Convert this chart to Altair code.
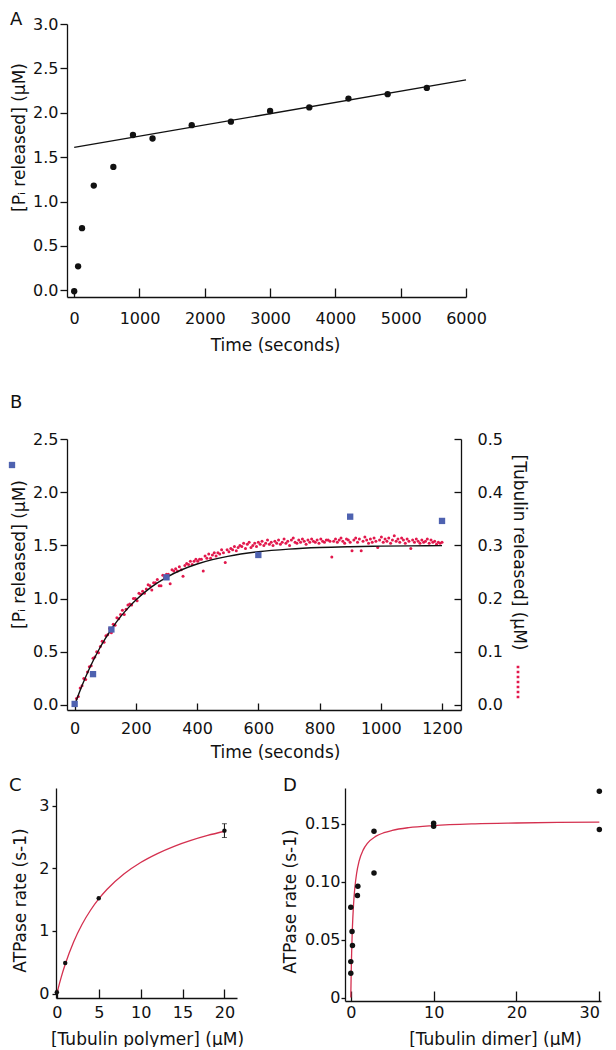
import altair as alt
import pandas as pd

FONT = "DejaVu Sans"
BLACK = "#111111"
BLUE = "#4e62b0"
RED = "#e2184c"
FIT_RED = "#d4304f"

# ---------------- Panel A ----------------
a_time = [0, 60, 120, 300, 600, 900, 1200, 1800, 2400, 3000, 3600, 4200, 4800, 5400]
a_pi = [-0.01, 0.27, 0.70, 1.18, 1.39, 1.75, 1.71, 1.86, 1.90, 2.02, 2.06, 2.16, 2.21, 2.28]
a_fit_time = [0, 6000]
a_fit_pi = [1.61, 2.37]
a_xticks = [0, 1000, 2000, 3000, 4000, 5000, 6000]
a_yticks = [0.0, 0.5, 1.0, 1.5, 2.0, 2.5, 3.0]

# ---------------- Panel B ----------------
b_sq_time = [0, 60, 120, 300, 600, 900, 1200]
b_sq_pi = [0.01, 0.29, 0.71, 1.20, 1.41, 1.77, 1.73]
b_fit_time = [0, 10, 20, 30, 45, 60, 80, 100, 125, 150, 175, 200, 250, 300, 350,
              400, 450, 500, 600, 700, 800, 900, 1000, 1100, 1200]
b_fit_pi = [0.0, 0.078, 0.153, 0.223, 0.322, 0.413, 0.524, 0.623, 0.733, 0.830, 0.913,
            0.987, 1.108, 1.200, 1.271, 1.325, 1.366, 1.397, 1.440, 1.465, 1.480, 1.488,
            1.493, 1.496, 1.498]
b_red_time = [
    6, 12, 18, 24, 30, 36, 42, 48, 54, 60,
    66, 72, 78, 84, 90, 96, 102, 108, 114, 120,
    126, 132, 138, 144, 150, 156, 162, 168, 174, 180,
    186, 192, 198, 204, 210, 216, 222, 228, 234, 240,
    246, 252, 258, 264, 270, 276, 282, 288, 294, 300,
    306, 312, 318, 324, 330, 336, 342, 348, 354, 360,
    366, 372, 378, 384, 390, 396, 402, 408, 414, 420,
    426, 432, 438, 444, 450, 456, 462, 468, 474, 480,
    486, 492, 498, 504, 510, 516, 522, 528, 534, 540,
    546, 552, 558, 564, 570, 576, 582, 588, 594, 600,
    606, 612, 618, 624, 630, 636, 642, 648, 654, 660,
    666, 672, 678, 684, 690, 696, 702, 708, 714, 720,
    726, 732, 738, 744, 750, 756, 762, 768, 774, 780,
    786, 792, 798, 804, 810, 816, 822, 828, 834, 840,
    846, 852, 858, 864, 870, 876, 882, 888, 894, 900,
    906, 912, 918, 924, 930, 936, 942, 948, 954, 960,
    966, 972, 978, 984, 990, 996, 1002, 1008, 1014, 1020,
    1026, 1032, 1038, 1044, 1050, 1056, 1062, 1068, 1074, 1080,
    1086, 1092, 1098, 1104, 1110, 1116, 1122, 1128, 1134, 1140,
    1146, 1152, 1158, 1164, 1170, 1176, 1182, 1188, 1194, 1200]
b_red_tub = [
    0.012, 0.016, 0.032, 0.036, 0.050, 0.048, 0.062, 0.072, 0.074, 0.088,
    0.090, 0.100, 0.098, 0.110, 0.120, 0.118, 0.130, 0.132, 0.144, 0.136,
    0.152, 0.150, 0.164, 0.162, 0.170, 0.178, 0.170, 0.180, 0.188, 0.190,
    0.188, 0.200, 0.200, 0.196, 0.210, 0.208, 0.214, 0.210, 0.218, 0.226,
    0.224, 0.216, 0.230, 0.230, 0.236, 0.224, 0.224, 0.244, 0.240, 0.246,
    0.246, 0.228, 0.254, 0.252, 0.256, 0.252, 0.260, 0.254, 0.242, 0.262,
    0.266, 0.264, 0.270, 0.264, 0.270, 0.274, 0.270, 0.274, 0.274, 0.252,
    0.280, 0.276, 0.284, 0.276, 0.282, 0.286, 0.280, 0.286, 0.284, 0.292,
    0.286, 0.268, 0.292, 0.288, 0.294, 0.292, 0.298, 0.290, 0.296, 0.300,
    0.298, 0.304, 0.294, 0.302, 0.306, 0.296, 0.300, 0.304, 0.298, 0.306,
    0.302, 0.308, 0.300, 0.304, 0.310, 0.302, 0.306, 0.300, 0.308, 0.304,
    0.310, 0.302, 0.306, 0.312, 0.304, 0.308, 0.300, 0.310, 0.314, 0.306,
    0.304, 0.310, 0.306, 0.312, 0.308, 0.302, 0.310, 0.306, 0.312, 0.308,
    0.306, 0.310, 0.304, 0.312, 0.308, 0.306, 0.310, 0.310, 0.308, 0.278,
    0.308, 0.312, 0.306, 0.310, 0.314, 0.308, 0.304, 0.312, 0.310, 0.306,
    0.290, 0.310, 0.314, 0.306, 0.312, 0.290, 0.308, 0.316, 0.310, 0.304,
    0.312, 0.306, 0.314, 0.308, 0.296, 0.310, 0.316, 0.306, 0.312, 0.308,
    0.314, 0.304, 0.310, 0.318, 0.308, 0.312, 0.306, 0.314, 0.310, 0.304,
    0.312, 0.308, 0.294, 0.310, 0.306, 0.312, 0.308, 0.304, 0.310, 0.306,
    0.308, 0.312, 0.304, 0.310, 0.306, 0.308, 0.302, 0.306, 0.304, 0.306]
b_xticks = [0, 200, 400, 600, 800, 1000, 1200]
b_yticks = [0.0, 0.5, 1.0, 1.5, 2.0, 2.5]
b_rticks = [0.0, 0.1, 0.2, 0.3, 0.4, 0.5]

# ---------------- Panel C ----------------
c_conc = [0, 1, 5, 20]
c_rate = [0.02, 0.49, 1.52, 2.60]
c_err_conc = [20]
c_err_lo = [2.49]
c_err_hi = [2.71]
c_fit_conc = [0, 0.5, 1, 2, 3, 4, 5, 6, 8, 10, 12, 14, 16, 18, 20]
c_fit_rate = [0.0, 0.252, 0.468, 0.823, 1.102, 1.326, 1.510, 1.664, 1.907, 2.091,
              2.234, 2.350, 2.444, 2.523, 2.590]
c_xticks = [0, 5, 10, 15, 20]
c_yticks = [0, 1, 2, 3]

# ---------------- Panel D ----------------
d_conc = [0, 0.15, 0.2, 0, 0, 0.85, 0.8, 2.8, 2.8, 10, 10, 30, 30]
d_rate = [0.078, 0.057, 0.045, 0.031, 0.021, 0.096, 0.088, 0.1435, 0.1076,
          0.1504, 0.1478, 0.178, 0.145]
d_fit_conc = [0, 0.02, 0.05, 0.1, 0.15, 0.2, 0.3, 0.4, 0.5, 0.7, 1, 1.5, 2, 3, 4, 5,
              7, 10, 15, 20, 25, 30]
d_fit_rate = [0.0, 0.0096, 0.0219, 0.0383, 0.051, 0.0612, 0.0765, 0.0874, 0.0956,
              0.1071, 0.1177, 0.1275, 0.1330, 0.1391, 0.1423, 0.1443, 0.1467, 0.1485,
              0.1500, 0.1507, 0.1512, 0.1515]
d_xticks = [0, 10, 20, 30]
d_yticks = [0, 0.05, 0.10, 0.15]


# ---------------- helpers ----------------
def x_main(values, title, fmt, label_pad, title_x, title_y, flush=False):
    return alt.Axis(values=values, format=fmt, title=title, orient="bottom",
                    ticks=False, tickSize=0, labelPadding=label_pad,
                    labelFlush=flush, labelOverlap=False,
                    titleX=title_x, titleY=title_y, titleBaseline="middle",
                    titleAlign="center")


def x_ticks(values, length):
    return alt.Axis(values=values, orient="bottom", offset=-length, tickSize=length,
                    domain=False, labels=False, title=None)


def y_left(values, fmt, title, tick, pad, title_x, title_y, label_expr=None):
    kw = dict(values=values, format=fmt, title=title, orient="left", tickSize=tick,
              labelPadding=pad, labelOverlap=False, labelFlush=False,
              titleX=title_x, titleY=title_y, titleBaseline="middle",
              titleAlign="center")
    if label_expr is not None:
        kw["labelExpr"] = label_expr
    return alt.Axis(**kw)


def panel_title(letter, dx, dy):
    return alt.TitleParams(text=letter, anchor="start", frame="group", orient="top",
                           offset=0, dx=dx, dy=dy, baseline="alphabetic",
                           fontSize=18, font=FONT, fontWeight="normal", color=BLACK)


def sc(lo, hi):
    return alt.Scale(domain=[lo, hi], nice=False, zero=False)


def spacer():
    return alt.Chart(pd.DataFrame({"v": [0]})).mark_point(opacity=0, size=0).encode(
        x=alt.value(0), y=alt.value(0)).properties(width=1, height=1)


# ---------------- Panel A chart ----------------
df_a = pd.DataFrame({"t": a_time, "pi": a_pi})
df_af = pd.DataFrame({"t": a_fit_time, "pi": a_fit_pi})
ax = sc(-110, 6000)
ay = sc(-0.075, 3.0)
a_pts = alt.Chart(df_a).mark_circle(size=40, color=BLACK, opacity=1).encode(
    x=alt.X("t:Q", scale=ax, axis=x_main(a_xticks, "Time (seconds)", "d", 13, 208, 48)),
    y=alt.Y("pi:Q", scale=ay, axis=y_left(a_yticks, ".1f", "[Pᵢ released] (µM)", 7, 2, -48, 113)))
a_line = alt.Chart(df_af).mark_line(color=BLACK, strokeWidth=1.4).encode(
    x=alt.X("t:Q", scale=ax, axis=x_ticks(a_xticks, 9)),
    y=alt.Y("pi:Q", scale=ay, axis=None))
A = alt.layer(a_line, a_pts).resolve_axis(x="independent", y="independent").properties(
    width=399, height=273, title=panel_title("A", -57, 27))

# ---------------- Panel B chart ----------------
df_bsq = pd.DataFrame({"t": b_sq_time, "pi": b_sq_pi, "series": ["Pi"] * len(b_sq_time)})
df_bf = pd.DataFrame({"t": b_fit_time, "pi": b_fit_pi})
df_br = pd.DataFrame({"t": b_red_time, "tub": b_red_tub, "series": ["Tubulin"] * len(b_red_time)})
bx = sc(-25, 1262)
by = sc(-0.047, 2.5)
bry = sc(-0.0094, 0.5)
dots_path = " ".join(
    "M-0.09,%.3fh0.18v0.18h-0.18z" % (c - 0.09)
    for c in [-1.0, -0.667, -0.333, 0.0, 0.333, 0.667, 1.0])
b_red = alt.Chart(df_br).mark_circle(size=9, opacity=1).encode(
    x=alt.X("t:Q", scale=bx, axis=None),
    y=alt.Y("tub:Q", scale=bry, axis=alt.Axis(
        values=b_rticks, format=".1f", orient="right", ticks=False, tickSize=0,
        labelPadding=16, labelOverlap=False, labelFlush=False,
        title="[Tubulin released] (µM)", titleX=57, titleY=113,
        titleBaseline="middle", titleAlign="center")),
    color=alt.Color("series:N", scale=alt.Scale(range=[RED]), legend=alt.Legend(
        orient="none", legendX=495, legendY=643, title=None, labelExpr="''",
        labelFontSize=1, symbolType=dots_path, symbolSize=900, symbolStrokeWidth=0,
        padding=0, offset=0)))
b_fit = alt.Chart(df_bf).mark_line(color=BLACK, strokeWidth=1.4, interpolate="monotone").encode(
    x=alt.X("t:Q", scale=bx, axis=x_ticks(b_xticks, 7)),
    y=alt.Y("pi:Q", scale=by, axis=None))
b_sq = alt.Chart(df_bsq).mark_square(size=40, opacity=1, strokeWidth=0).encode(
    x=alt.X("t:Q", scale=bx, axis=x_main(b_xticks, "Time (seconds)", "d", 10, 208, 42)),
    y=alt.Y("pi:Q", scale=by, axis=y_left(b_yticks, ".1f", "[Pᵢ released] (µM)", 7, 2, -48, 115)),
    fill=alt.Fill("series:N", scale=alt.Scale(range=[BLUE]), legend=alt.Legend(
        orient="none", legendX=0.5, legendY=437.5, title=None, labelExpr="''",
        labelFontSize=1, symbolType="square", symbolSize=40, symbolStrokeWidth=0,
        padding=0, offset=0)))
b_rt = alt.Chart(df_br).mark_circle(opacity=0).encode(
    x=alt.X("t:Q", scale=bx, axis=None),
    y=alt.Y("tub:Q", scale=bry, axis=alt.Axis(
        values=b_rticks, orient="right", offset=-7, tickSize=7, domain=False,
        labels=False, title=None)))
B = alt.layer(b_red, b_fit, b_sq, b_rt).resolve_scale(y="independent").resolve_axis(
    x="independent", y="independent").properties(
    width=394, height=271, title=panel_title("B", -57, -5))

# ---------------- Panel C chart ----------------
df_c = pd.DataFrame({"x": c_conc, "y": c_rate})
df_ce = pd.DataFrame({"x": c_err_conc, "lo": c_err_lo, "hi": c_err_hi})
df_cf = pd.DataFrame({"x": c_fit_conc, "y": c_fit_rate})
cx = sc(-0.1, 21.5)
cy = sc(-0.07, 3.28)
c_fit = alt.Chart(df_cf).mark_line(color=FIT_RED, strokeWidth=1.3, interpolate="monotone").encode(
    x=alt.X("x:Q", scale=cx, axis=x_ticks(c_xticks, 9)),
    y=alt.Y("y:Q", scale=cy, axis=None))
c_err = alt.Chart(df_ce).mark_rule(color=BLACK, strokeWidth=1).encode(
    x=alt.X("x:Q", scale=cx, axis=None),
    y=alt.Y("lo:Q", scale=cy, axis=None), y2="hi:Q")
c_cap_lo = alt.Chart(df_ce).mark_tick(color=BLACK, orient="horizontal", size=5, thickness=1).encode(
    x=alt.X("x:Q", scale=cx, axis=None), y=alt.Y("lo:Q", scale=cy, axis=None))
c_cap_hi = alt.Chart(df_ce).mark_tick(color=BLACK, orient="horizontal", size=5, thickness=1).encode(
    x=alt.X("x:Q", scale=cx, axis=None), y=alt.Y("hi:Q", scale=cy, axis=None))
c_pts = alt.Chart(df_c).mark_circle(size=20, color=BLACK, opacity=1).encode(
    x=alt.X("x:Q", scale=cx, axis=x_main(c_xticks, "[Tubulin polymer] (µM)", "d", 6, 91, 41)),
    y=alt.Y("y:Q", scale=cy, axis=y_left(c_yticks, "d", "ATPase rate (s-1)", 4, 3, -36, 112)))
C = alt.layer(c_fit, c_err, c_cap_lo, c_cap_hi, c_pts).resolve_axis(
    x="independent", y="independent").properties(
    width=181, height=210, title=panel_title("C", -47, 21))

# ---------------- Panel D chart ----------------
df_d = pd.DataFrame({"x": d_conc, "y": d_rate})
df_df = pd.DataFrame({"x": d_fit_conc, "y": d_fit_rate})
dx_ = sc(-0.7, 30.2)
dy_ = sc(-0.003, 0.1809)
d_fit = alt.Chart(df_df).mark_line(color=FIT_RED, strokeWidth=1.3, interpolate="monotone").encode(
    x=alt.X("x:Q", scale=dx_, axis=x_ticks(d_xticks, 10)),
    y=alt.Y("y:Q", scale=dy_, axis=None))
d_pts = alt.Chart(df_d).mark_circle(size=30, color=BLACK, opacity=1).encode(
    x=alt.X("x:Q", scale=dx_, axis=x_main(d_xticks, "[Tubulin dimer] (µM)", "d", 3, 150, 38,
                                          flush=3)),
    y=alt.Y("y:Q", scale=dy_, axis=y_left(
        d_yticks, ".2f", "ATPase rate (s-1)", 4, 1, -55, 113,
        label_expr="datum.value == 0 ? '0' : format(datum.value, '.2f')")))
D = alt.layer(d_fit, d_pts).resolve_axis(x="independent", y="independent").properties(
    width=256, height=213, title=panel_title("D", -62, 21))

# ---------------- assemble ----------------
top = alt.hconcat(spacer(), alt.vconcat(A, B, spacing=41), spacing=0)
bottom = alt.hconcat(spacer(), alt.hconcat(C, D, spacing=36), spacing=0)
chart = alt.vconcat(top, bottom, spacing=17).properties(
    padding={"left": 0, "top": 3, "right": 0, "bottom": 0}
).configure_view(strokeWidth=0).configure_axis(
    labelFont=FONT, labelFontSize=16, labelColor=BLACK,
    titleFont=FONT, titleFontSize=17, titleFontWeight="normal", titleColor=BLACK,
    domainColor=BLACK, tickColor=BLACK, domainWidth=1.3, tickWidth=1.3, grid=False,
).configure_title(font=FONT, fontSize=18, fontWeight="normal", color=BLACK)

chart.save("out.html", embed_options={"renderer": "svg", "actions": False})
